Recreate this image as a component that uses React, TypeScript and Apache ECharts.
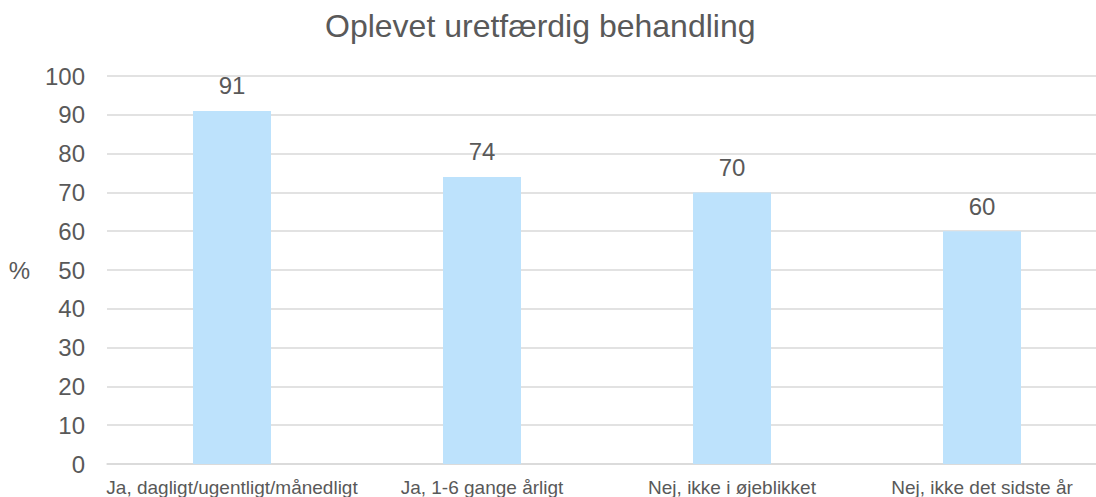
import React, { useEffect, useRef } from "react";
import * as echarts from "echarts";

const categories = [
  "Ja, dagligt/ugentligt/månedligt",
  "Ja, 1-6 gange årligt",
  "Nej, ikke i øjeblikket",
  "Nej, ikke det sidste år",
];
const values = [91, 74, 70, 60];
const titleText = "Oplevet uretfærdig behandling";
const yName = "%";

export default function App() {
  const ref = useRef<HTMLDivElement>(null);
  useEffect(() => {
    document.body.style.margin = "0";
    const chart = echarts.init(ref.current!, null, { renderer: "svg" });
    const txt = "#595959";
    const font = "Liberation Sans, Arial, sans-serif";
    chart.setOption({
      animation: false,
      textStyle: { fontFamily: font },
      title: {
        text: titleText,
        left: 320,
        top: 5,
        textStyle: { fontSize: 32, fontWeight: "normal", color: txt, fontFamily: font },
      },
      grid: { left: 107, right: 0, top: 76, bottom: 27, containLabel: false },
      xAxis: {
        type: "category",
        data: categories,
        axisLine: { lineStyle: { color: "#d9d9d9", width: 1.5 } },
        axisTick: { show: false },
        axisLabel: { color: txt, fontSize: 19, margin: 14, interval: 0, fontFamily: font },
      },
      yAxis: {
        type: "value",
        min: 0,
        max: 100,
        interval: 10,
        name: yName,
        nameLocation: "middle",
        nameRotate: 0,
        nameGap: 77,
        nameTextStyle: { color: txt, fontSize: 24, fontFamily: font },
        axisLine: { show: false },
        axisTick: { show: false },
        axisLabel: { color: txt, fontSize: 24, margin: 22, fontFamily: font },
        splitLine: { lineStyle: { color: "#d9d9d9", width: 1.5 } },
      },
      series: [
        {
          type: "bar",
          data: values,
          barWidth: 78,
          itemStyle: { color: "#bde2fc" },
          label: {
            show: true,
            position: "top",
            distance: 13,
            color: txt,
            fontSize: 24,
            fontFamily: font,
          },
        },
      ],
    });
    return () => chart.dispose();
  }, []);
  return (
    <div style={{ width: 1096, height: 497, overflow: "hidden", position: "relative", background: "#fff" }}>
      <div ref={ref} style={{ width: 1107, height: 497 }} />
    </div>
  );
}
